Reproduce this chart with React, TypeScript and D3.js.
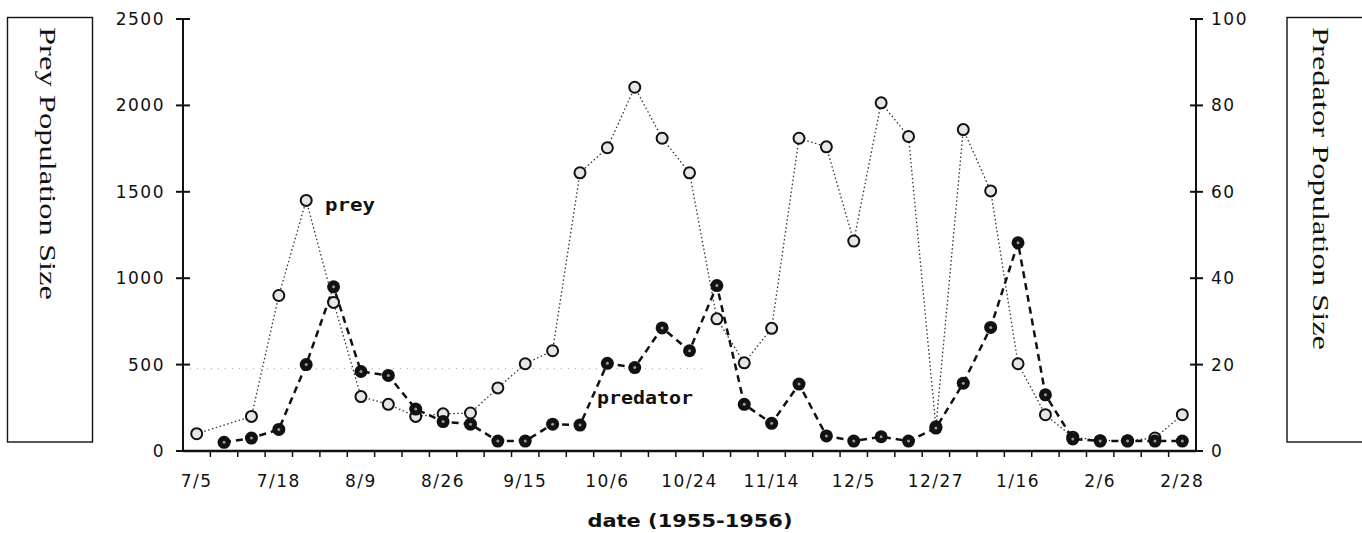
import React from 'react';
import * as d3 from 'd3';

// sampling dates shown on the x axis (every third sample is labelled)
const tickLabels = ['7/5', '7/18', '8/9', '8/26', '9/15', '10/6', '10/24', '11/14', '12/5', '12/27', '1/16', '2/6', '2/28'];
const labelEvery = 3;

// prey counts (left axis), one per sample, null where not sampled
const prey = [100, null, 200, 900, 1450, 860, 315, 270, 200, 215, 220, 365, 505, 580, 1610, 1755, 2105, 1810, 1610, 765,
  510, 710, 1810, 1760, 1215, 2015, 1820, 140, 1860, 1505, 505, 210, 80, 60, 60, 75, 210];

// predator counts (right axis)
const predator = [null, 2, 3, 5, 20, 38, 18.4, 17.5, 9.7, 6.8, 6.2, 2.3, 2.3, 6.2, 6, 20.3, 19.3, 28.5, 23.2, 38.3,
  10.8, 6.4, 15.5, 3.5, 2.3, 3.3, 2.3, 5.3, 15.7, 28.6, 48.2, 13, 2.8, 2.3, 2.3, 2.3, 2.3];

const preyTicks = [0, 500, 1000, 1500, 2000, 2500];
const predatorTicks = [0, 20, 40, 60, 80, 100];

// faint dotted guide in the scan (sample index range, prey value)
const guide = { from: -0.25, to: 18.55, value: 476 };

// series labels placed in (sample index, prey value) coordinates
const annotations = [
  { text: 'prey', idx: 4.69, value: 1386, length: 50 },
  { text: 'predator', idx: 14.62, value: 273, length: 96 },
];

const W = 1362;
const H = 533;
const left = 183;
const right = 1196;
const top = 19;
const bottom = 451;

const tickFont = '"DejaVu Sans", sans-serif';

export default function App() {
  const n = prey.length;
  const x = d3.scaleLinear().domain([-0.5, n - 0.5]).range([left, right]);
  const yPrey = d3.scaleLinear().domain([0, 2500]).range([bottom, top]);
  const yPred = d3.scaleLinear().domain([0, 100]).range([bottom, top]);

  const preyPts = prey.map((v, i) => ({ i, v })).filter(d => d.v != null) as { i: number; v: number }[];
  const predPts = predator.map((v, i) => ({ i, v })).filter(d => d.v != null) as { i: number; v: number }[];

  const preyLine = d3.line<{ i: number; v: number }>().x(d => x(d.i)).y(d => yPrey(d.v))(preyPts) || '';
  const predLine = d3.line<{ i: number; v: number }>().x(d => x(d.i)).y(d => yPred(d.v))(predPts) || '';

  const edges = d3.range(0, n - 1).map(i => i + 0.5);

  return (
    <svg width={W} height={H} style={{ position: 'absolute', left: 0, top: 0, background: '#fff' }}>
      {/* side boxes with axis titles */}
      <rect x={7.5} y={17.5} width={85} height={424.5} fill="none" stroke="#111" strokeWidth={1.4} />
      <text
        transform="translate(40,27) rotate(90)"
        fontFamily='"Liberation Serif", serif'
        fontSize={23}
        textLength={273}
        lengthAdjust="spacingAndGlyphs"
        fill="#111"
      >
        Prey Population Size
      </text>
      <rect x={1287} y={17.5} width={90} height={424.5} fill="none" stroke="#111" strokeWidth={1.4} />
      <text
        transform="translate(1313,27) rotate(90)"
        fontFamily='"Liberation Serif", serif'
        fontSize={23}
        textLength={323}
        lengthAdjust="spacingAndGlyphs"
        fill="#111"
      >
        Predator Population Size
      </text>

      {/* guide line */}
      <line
        x1={x(guide.from)} x2={x(guide.to)} y1={yPrey(guide.value)} y2={yPrey(guide.value)}
        stroke="#999" strokeWidth={1} strokeDasharray="1,6"
      />

      {/* left axis */}
      <line x1={left} x2={left} y1={top} y2={bottom} stroke="#111" strokeWidth={2} />
      {preyTicks.map(t => (
        <g key={'l' + t}>
          <line x1={left - 7} x2={left + 7} y1={yPrey(t)} y2={yPrey(t)} stroke="#111" strokeWidth={2} />
          <text x={165} y={yPrey(t)} textAnchor="end" dominantBaseline="central" fontFamily={tickFont} fontSize={17} letterSpacing={1.5} fill="#111">
            {t}
          </text>
        </g>
      ))}

      {/* right axis */}
      <line x1={right} x2={right} y1={top} y2={bottom} stroke="#111" strokeWidth={2} />
      {predatorTicks.map(t => (
        <g key={'r' + t}>
          <line x1={right - 6} x2={right + 7} y1={yPred(t)} y2={yPred(t)} stroke="#111" strokeWidth={2} />
          <text x={1211} y={yPred(t)} dominantBaseline="central" fontFamily={tickFont} fontSize={17} letterSpacing={1.5} fill="#111">
            {t}
          </text>
        </g>
      ))}

      {/* bottom axis */}
      <line x1={left} x2={right} y1={bottom} y2={bottom} stroke="#111" strokeWidth={2.5} />
      {edges.map(e => (
        <line key={'t' + e} x1={x(e)} x2={x(e)} y1={bottom} y2={bottom + 6} stroke="#111" strokeWidth={1.5} />
      ))}
      {tickLabels.map((lab, k) => (
        <text key={lab} x={x(k * labelEvery)} y={487} textAnchor="middle" fontFamily={tickFont} fontSize={17} letterSpacing={1.5} fill="#111">
          {lab}
        </text>
      ))}
      <text
        x={(left + right) / 2 - 102} y={527}
        fontFamily={tickFont} fontWeight="bold" fontSize={17}
        textLength={205} lengthAdjust="spacingAndGlyphs" fill="#111"
      >
        date (1955-1956)
      </text>

      {/* series */}
      <path d={preyLine} fill="none" stroke="#333" strokeWidth={1.3} strokeDasharray="1.5,2.5" />
      <path d={predLine} fill="none" stroke="#111" strokeWidth={2.5} strokeDasharray="7,5" />

      {preyPts.map(d => (
        <circle key={'p' + d.i} cx={x(d.i)} cy={yPrey(d.v)} r={5.5} fill="#e6e6e6" stroke="#111" strokeWidth={2} />
      ))}
      {predPts.map(d => (
        <g key={'q' + d.i}>
          <circle cx={x(d.i)} cy={yPred(d.v)} r={6.5} fill="#111" />
          <circle cx={x(d.i)} cy={yPred(d.v)} r={1.5} fill="#999" />
        </g>
      ))}

      {annotations.map(a => (
        <text
          key={a.text} x={x(a.idx)} y={yPrey(a.value)}
          fontFamily='"DejaVu Sans Mono", monospace' fontWeight="bold" fontSize={18}
          textLength={a.length} lengthAdjust="spacingAndGlyphs" fill="#111"
        >
          {a.text}
        </text>
      ))}
    </svg>
  );
}
